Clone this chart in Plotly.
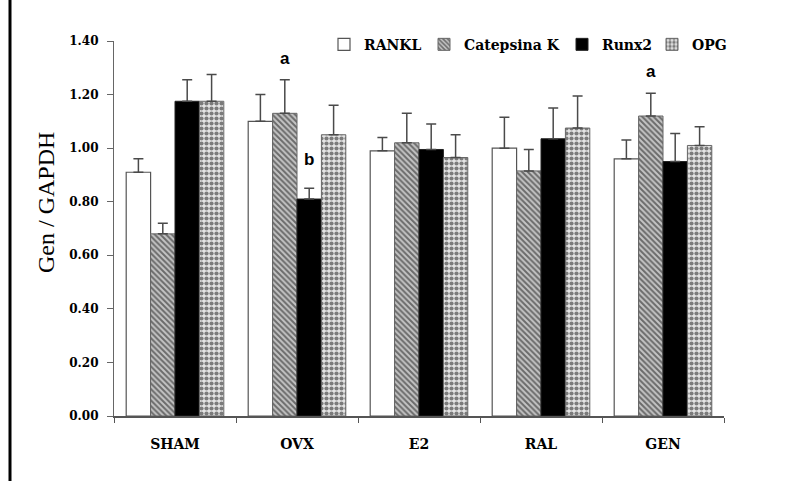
import plotly.graph_objects as go

# Groups and gene expression relative to GAPDH (mean and upper SD)
groups = ["SHAM", "OVX", "E2", "RAL", "GEN"]

rankl = [0.91, 1.10, 0.99, 1.00, 0.96]
rankl_err = [0.05, 0.10, 0.05, 0.115, 0.07]

catepsina = [0.68, 1.13, 1.02, 0.915, 1.12]
catepsina_err = [0.04, 0.125, 0.11, 0.08, 0.085]

runx2 = [1.175, 0.81, 0.995, 1.035, 0.95]
runx2_err = [0.08, 0.04, 0.095, 0.115, 0.105]

opg = [1.175, 1.05, 0.965, 1.075, 1.01]
opg_err = [0.10, 0.11, 0.085, 0.12, 0.07]

y_ticks = [0.0, 0.2, 0.4, 0.6, 0.8, 1.0, 1.2, 1.4]

# Significance letters: (group, series index, label, value position)
sig_marks = [("OVX", 1, "a", 1.335), ("OVX", 2, "b", 0.958), ("GEN", 1, "a", 1.285)]

SERIF_B = "DejaVu Serif"
err_col = "#4a4a4a"


def err(vals):
    return dict(type="data", symmetric=False, array=vals,
                arrayminus=[0] * len(vals), color=err_col,
                thickness=1.5, width=5)


fig = go.Figure()
fig.add_trace(go.Bar(
    name="RANKL", x=groups, y=rankl, error_y=err(rankl_err),
    marker=dict(color="white", line=dict(color="#555", width=1.2)),
    legend="legend", showlegend=True))
fig.add_trace(go.Bar(
    name="Catepsina K", x=groups, y=catepsina, error_y=err(catepsina_err),
    marker=dict(color="#b8b8b8", line=dict(color="#666", width=1),
                pattern=dict(shape="\\", fgcolor="#111", bgcolor="#c4c4c4",
                             size=4, solidity=0.5)),
    legend="legend2", showlegend=True))
fig.add_trace(go.Bar(
    name="Runx2", x=groups, y=runx2, error_y=err(runx2_err),
    marker=dict(color="black", line=dict(color="#222", width=1)),
    legend="legend3", showlegend=True))
fig.add_trace(go.Bar(
    name="OPG", x=groups, y=opg, error_y=err(opg_err),
    marker=dict(color="white", line=dict(color="#666", width=1),
                pattern=dict(shape=".", fgcolor="#111", bgcolor="#e4e4e4",
                             size=5, solidity=0.55)),
    legend="legend4", showlegend=True))

# Letters above bars, offset within the group by series index
n_series = 4
group_w = 0.8
for g, idx, txt, yv in sig_marks:
    offset = (idx - (n_series - 1) / 2) * group_w / n_series
    fig.add_annotation(x=groups.index(g) + offset, y=yv, text=txt,
                       showarrow=False, yanchor="middle",
                       font=dict(family="Liberation Sans", size=17,
                                 color="black", weight="bold"))

L, R, T, B = 114, 87, 41, 65
W, H = 811, 481
pw = W - L - R
ph = H - T - B


def lx(px):
    return (px - L) / pw


def ly(py):
    return (H - B - py) / ph


# Y-axis title placed as rotated text
fig.add_annotation(xref="paper", yref="paper", x=lx(46), y=ly(203),
                   text="Gen / GAPDH", textangle=-90, showarrow=False,
                   xanchor="center", yanchor="middle",
                   font=dict(family="Liberation Serif", size=24, color="black"))

leg_font = dict(family=SERIF_B, size=14, color="black", weight="bold")
leg_common = dict(orientation="h", yanchor="middle", y=0.99, xanchor="left",
                  font=leg_font, bgcolor="rgba(0,0,0,0)", borderwidth=0,
                  itemwidth=30)

fig.update_layout(
    width=W, height=H,
    margin=dict(l=L, r=R, t=T, b=B),
    paper_bgcolor="white", plot_bgcolor="white",
    showlegend=True,
    barmode="group", bargap=0.2, bargroupgap=0.0,
    legend=dict(x=lx(324), **leg_common),
    legend2=dict(x=lx(424), **leg_common),
    legend3=dict(x=lx(562), **leg_common),
    legend4=dict(x=lx(652), **leg_common),
    xaxis=dict(
        showline=True, linecolor="#555", linewidth=1.5,
        ticks="outside", tickson="boundaries", ticklen=5, tickcolor="#555",
        tickfont=dict(family=SERIF_B, size=14, color="black", weight="bold"),
        ticklabelstandoff=14, showgrid=False, zeroline=False),
    yaxis=dict(
        range=[0, 1.4], tickvals=y_ticks,
        ticktext=[f"{v:.2f}" for v in y_ticks],
        showline=True, linecolor="#666", linewidth=1.2,
        ticks="outside", ticklen=6, tickcolor="#666",
        tickfont=dict(family=SERIF_B, size=12, color="black", weight="bold"),
        ticklabelstandoff=6, showgrid=False, zeroline=False),
)

# Vertical rule at the left edge of the figure
fig.add_shape(type="line", xref="paper", yref="paper",
              x0=lx(10), x1=lx(10), y0=ly(H), y1=ly(0),
              line=dict(color="black", width=3))

fig.write_html("out.html")
